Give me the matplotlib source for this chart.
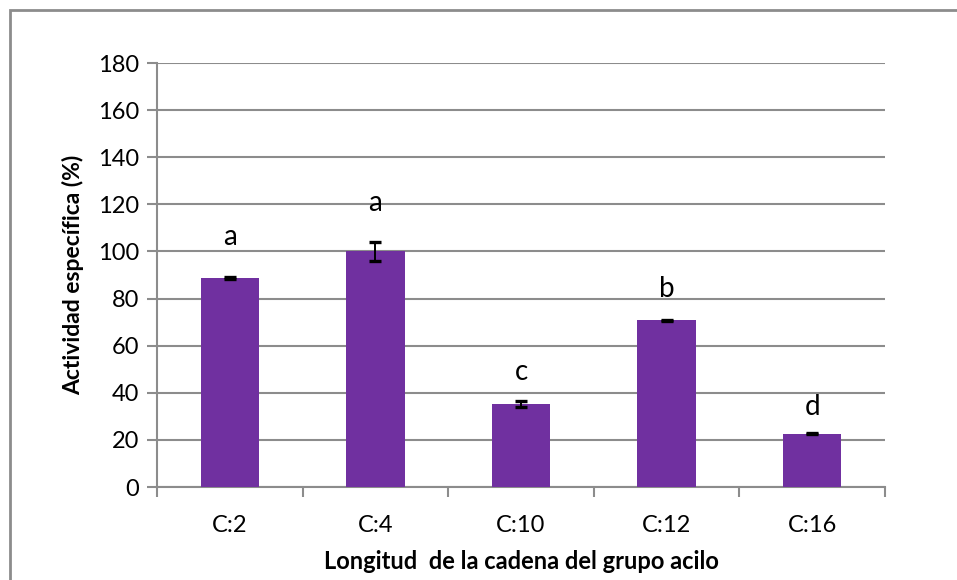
import matplotlib.pyplot as plt
from matplotlib.patches import Rectangle
import numpy as np

plt.rcParams['font.family'] = ['Lato', 'DejaVu Sans']

# chain length of the acyl group vs specific activity
categories = ['C:2', 'C:4', 'C:10', 'C:12', 'C:16']
activity = [88.7, 100.0, 35.2, 70.7, 22.7]
activity_err = [0.4, 4.0, 1.3, 0.3, 0.4]
letters = ['a', 'a', 'c', 'b', 'd']
letter_y = [106, 120.5, 49, 84, 34]

grey = '#8c8c8c'
purple = '#7030A0'

fig = plt.figure(figsize=(9.57, 5.8), dpi=100)
ax = fig.add_axes([157/957, 1 - 487/580, (885 - 157)/957, (487 - 63)/580])

x = np.arange(len(categories))
ax.bar(x, activity, width=0.4, color=purple, zorder=3)
ax.errorbar(x, activity, yerr=activity_err, fmt='none', ecolor='black',
            elinewidth=1.4, capsize=4, capthick=2.4, zorder=4)

for xi, lab, ly in zip(x, letters, letter_y):
    ax.text(xi, ly, lab, ha='center', va='center', fontsize=20)

ax.set_xlim(-0.5, len(categories) - 0.5)
ax.set_ylim(0, 180)
ax.set_yticks(np.arange(0, 181, 20))
ax.yaxis.grid(True, color=grey, linewidth=1.5, zorder=0)

ax.set_xticks(x)
ax.set_xticklabels(categories)
ax.set_xticks(np.arange(-0.5, len(categories)), minor=True)
ax.tick_params(axis='x', which='major', length=0, pad=20, labelsize=17)
ax.tick_params(axis='x', which='minor', length=7, width=1.5, color=grey)
ax.tick_params(axis='y', length=7, width=1.5, color=grey, labelsize=17, pad=6)

for side in ['top', 'right']:
    ax.spines[side].set_visible(False)
for side in ['left', 'bottom']:
    ax.spines[side].set_color(grey)
    ax.spines[side].set_linewidth(1.5)

ax.set_ylabel('Actividad específica (%)', fontsize=16.5, fontweight='bold', labelpad=10)
ax.set_xlabel('Longitud  de la cadena del grupo acilo', fontsize=17,
              fontweight='bold', labelpad=10)

# chart frame
fig.patches.append(Rectangle((10/957, -0.1), 1.2, 1.1 - 10/580,
                             transform=fig.transFigure, fill=False,
                             edgecolor=grey, linewidth=2))

fig.savefig('out.png', dpi=100)
